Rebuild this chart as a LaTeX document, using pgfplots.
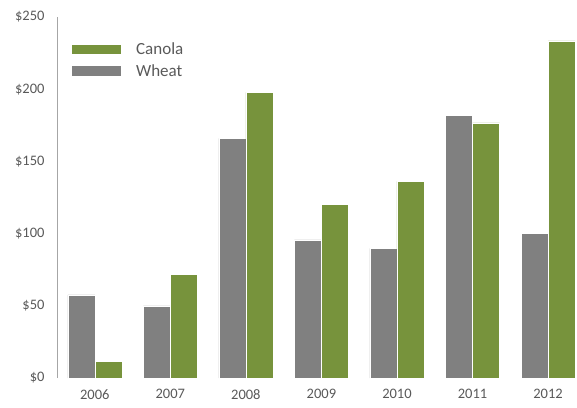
\documentclass[border=0pt]{standalone}
\usepackage{fontspec}
\setmainfont{Carlito}
\usepackage{pgfplots}
\pgfplotsset{compat=1.18}
\definecolor{wheat}{RGB}{128,128,128}
\definecolor{canola}{RGB}{119,147,60}
\definecolor{tickc}{RGB}{89,89,89}
\definecolor{axisc}{RGB}{166,166,166}
\begin{document}
\begin{tikzpicture}
\begin{axis}[name=ax, scale only axis, width=520pt, height=361pt,
  xmin=-0.5, xmax=6.383, ymin=0, ymax=250,
  ybar=0pt, bar width=27pt,
  xtick={0,1,2,3,4,5,6},
  xticklabels={2006,2007,2008,2009,2010,2011,2012},
  ytick={0,50,100,150,200,250},
  yticklabel={\$\pgfmathprintnumber{\tick}},
  axis lines=left,
  x axis line style={draw=none},
  y axis line style={draw=axisc,-,line width=0.8pt},
  major tick length=0pt,
  tick label style={font=\fontsize{14.5}{17}\selectfont, text=tickc},
  yticklabel style={xshift=-9pt},
  xticklabel style={yshift=-8pt},
  /pgf/number format/assume math mode=true,
  clip=false,
  legend style={at={(0.0288,0.928)}, anchor=north west, draw=none, fill=none,
    inner sep=0pt, row sep=8pt, column sep=0pt,
    font=\fontsize{17}{20}\selectfont, text=tickc,
    nodes={inner sep=0pt, anchor=base west}},
  legend cell align=left,
  legend image code/.code={\fill[#1] (0pt,0.6pt) rectangle (49pt,10pt);},
  /tikz/every odd column/.append style={column sep=15pt},
]
\addplot[fill=wheat, draw=white, line width=0.5pt, bar shift=-13.5pt, forget plot] coordinates {(0,57.5) (1,50) (2,166) (3,95.6) (4,89.8) (5,181.9) (6,100.2)};
\addplot[fill=canola, draw=white, line width=0.5pt, bar shift=13.5pt, forget plot] coordinates {(0,11.3) (1,72) (2,197.8) (3,120) (4,136.1) (5,176.6) (6,233.4)};
\addlegendimage{fill=canola, draw=none}
\addlegendentry{Canola}
\addlegendimage{fill=wheat, draw=none}
\addlegendentry{Wheat}
\end{axis}
\pgfresetboundingbox
\path ([xshift=-57pt,yshift=-29pt]ax.south west) rectangle ([yshift=17pt]ax.north east);
\end{tikzpicture}
\end{document}
